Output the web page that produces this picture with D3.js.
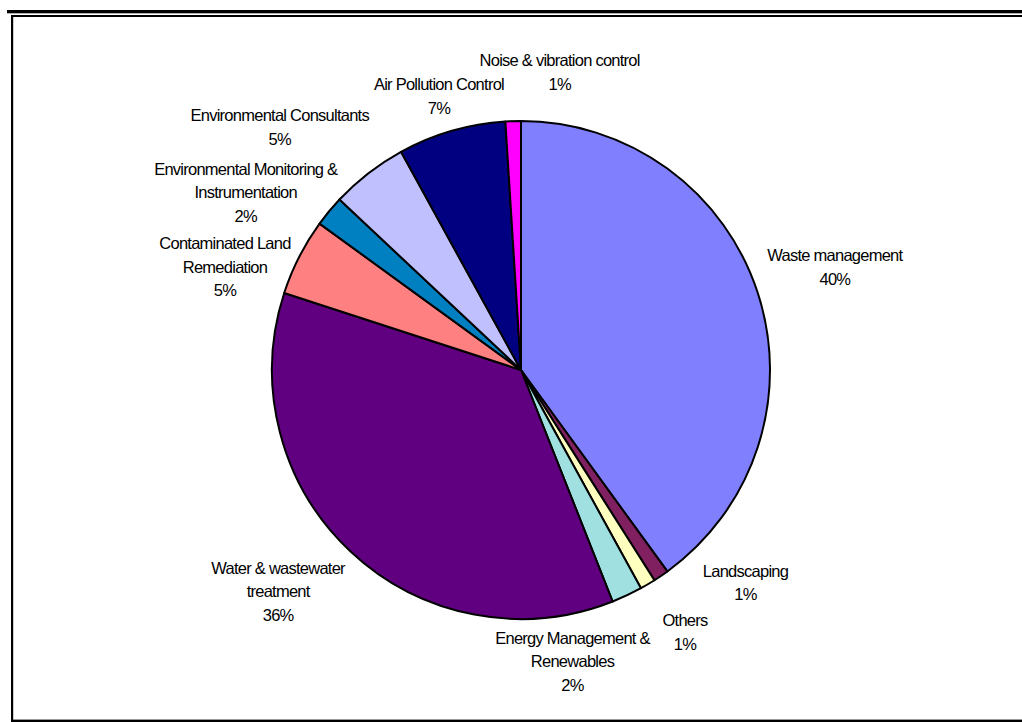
<!DOCTYPE html>
<html>
<head>
<meta charset="utf-8">
<script src="https://cdn.jsdelivr.net/npm/d3@7"></script>
<style>
  body { margin: 0; background: #fff; }
  svg text { font-family: "Liberation Sans", Arial, sans-serif; font-size: 16.5px; letter-spacing: -0.75px; fill: #000; }
</style>
</head>
<body>
<div class="chart"></div>
<script>
// data, clockwise from 12 o'clock
const sectors = ["Waste management", "Landscaping", "Others", "Energy Management & Renewables",
  "Water & wastewater treatment", "Contaminated Land Remediation",
  "Environmental Monitoring & Instrumentation", "Environmental Consultants",
  "Air Pollution Control", "Noise & vibration control"];
const shares = [40, 1, 1, 2, 36, 5, 2, 5, 7, 1];
const pctLabels = ["40%", "1%", "1%", "2%", "36%", "5%", "2%", "5%", "7%", "1%"];
// how each label breaks into lines
const labelLines = [
  ["Waste management"], ["Landscaping"], ["Others"], ["Energy Management &", "Renewables"],
  ["Water & wastewater", "treatment"], ["Contaminated Land", "Remediation"],
  ["Environmental Monitoring &", "Instrumentation"], ["Environmental Consultants"],
  ["Air Pollution Control"], ["Noise & vibration control"]
];
const colours = ["#8080FF", "#802060", "#FFFFC0", "#A0E0E0", "#600080",
  "#FF8080", "#0080C0", "#C0C0FF", "#000080", "#FF00FF"];

const width = 1022, height = 722;
const cx = 521, cy = 370, radius = 249, labelRadius = 330;
const lineH = 23.5;
// nudges of the label blocks from the mid-angle point (Excel moves them about)
const nudge = [[0, -1], [39, -60], [-4, -22], [-89, -7], [-17, -19],
  [-2, 47], [-21, 33], [-39, 18], [10, 43], [49, 32]];

const svg = d3.select(".chart").append("svg")
  .attr("width", width).attr("height", height);

// frame lines
const frame = svg.append("g").attr("fill", "#000");
frame.append("rect").attr("x", 7).attr("y", 10).attr("width", width - 7).attr("height", 3.3);
frame.append("rect").attr("x", 11).attr("y", 15).attr("width", width - 11).attr("height", 2);
frame.append("rect").attr("x", 11).attr("y", 15).attr("width", 2.2).attr("height", height - 15);
frame.append("rect").attr("x", 11).attr("y", 719.6).attr("width", width - 11).attr("height", 2.4);

const data = sectors.map((s, i) => ({name: s, value: shares[i], pct: pctLabels[i], lines: labelLines[i], colour: colours[i], i: i}));

const pie = d3.pie().sort(null).value(d => d.value);
const arc = d3.arc().innerRadius(0).outerRadius(radius);
const arcs = pie(data);

const g = svg.append("g").attr("transform", "translate(" + cx + "," + cy + ")");

g.selectAll("path.slice")
  .data(arcs)
  .enter()
  .append("path")
  .attr("class", "slice")
  .attr("d", arc)
  .attr("fill", d => d.data.colour)
  .attr("stroke", "#000")
  .attr("stroke-width", 2)
  .attr("stroke-linejoin", "round");

const labels = g.selectAll("text.lbl")
  .data(arcs)
  .enter()
  .append("text")
  .attr("class", "lbl")
  .attr("text-anchor", "middle")
  .attr("transform", function(d) {
    const a = (d.startAngle + d.endAngle) / 2;
    const x = Math.sin(a) * labelRadius + nudge[d.data.i][0];
    const y = -Math.cos(a) * labelRadius + nudge[d.data.i][1];
    return "translate(" + x + "," + y + ")";
  });

labels.each(function(d) {
  const lines = d.data.lines.concat([d.data.pct]);
  const t = d3.select(this);
  lines.forEach(function(l, k) {
    t.append("tspan")
      .attr("x", 0)
      .attr("y", (k - (lines.length - 1) / 2) * lineH)
      .attr("dy", "0.35em")
      .text(l);
  });
});
</script>
</body>
</html>
